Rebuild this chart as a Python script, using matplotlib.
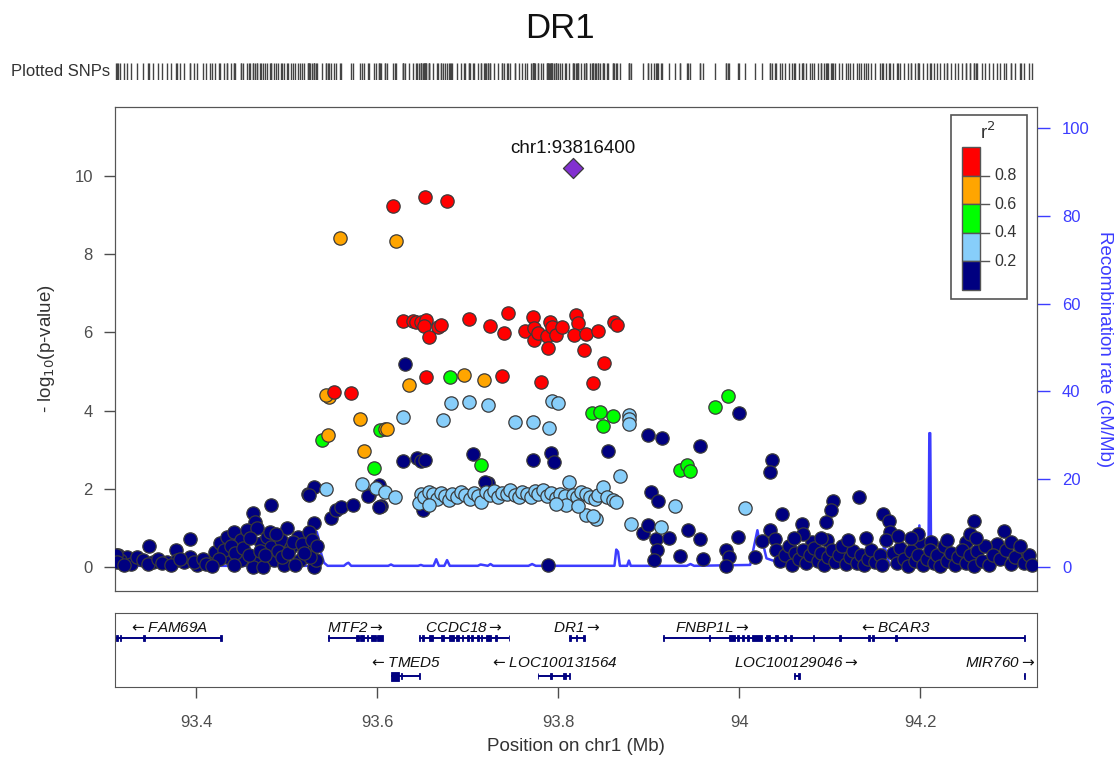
import numpy as np
import matplotlib.pyplot as plt
from matplotlib.patches import Rectangle

plt.rcParams['font.family'] = ['Liberation Sans', 'DejaVu Sans']

# ---- association results, grouped by LD bin (position in Mb, -log10 p) ----
red_pos = [93.617, 93.653, 93.677, 93.628, 93.639, 93.643, 93.648, 93.654, 93.651, 93.667,
           93.670, 93.657, 93.701, 93.725, 93.744, 93.740, 93.763, 93.772, 93.773, 93.773,
           93.778, 93.787, 93.791, 93.793, 93.797, 93.804, 93.789, 93.820, 93.822, 93.817,
           93.830, 93.844, 93.828, 93.862, 93.865, 93.850, 93.738, 93.654, 93.781, 93.552,
           93.571, 93.838]
red_logp = [9.23, 9.46, 9.36, 6.29, 6.29, 6.27, 6.26, 6.32, 6.16, 6.15,
            6.19, 5.87, 6.34, 6.17, 6.49, 5.98, 6.04, 6.40, 6.12, 5.81,
            5.98, 5.91, 6.27, 6.14, 5.93, 6.15, 5.59, 6.44, 6.23, 5.93,
            5.96, 6.04, 5.55, 6.26, 6.20, 5.21, 4.89, 4.86, 4.74, 4.48,
            4.44, 4.70]

orange_pos = [93.559, 93.621, 93.547, 93.543, 93.635, 93.696, 93.718, 93.581, 93.545, 93.608,
              93.611, 93.585]
orange_logp = [8.40, 8.33, 4.36, 4.40, 4.65, 4.91, 4.78, 3.78, 3.38, 3.52,
               3.52, 2.97]

green_pos = [93.680, 93.539, 93.603, 93.596, 93.714, 93.837, 93.846, 93.860, 93.849, 93.973,
             93.988, 93.934, 93.942, 93.945]
green_logp = [4.85, 3.25, 3.50, 2.54, 2.61, 3.95, 3.96, 3.86, 3.61, 4.08,
              4.38, 2.48, 2.61, 2.46]

lblue_pos = [93.681, 93.701, 93.722, 93.673, 93.628, 93.752, 93.772, 93.793, 93.800, 93.790,
             93.878, 93.878, 93.878, 93.868, 93.929, 94.006, 93.880, 93.913, 93.830, 93.842,
             93.838, 93.543, 93.583, 93.599, 93.608, 93.619, 93.648, 93.646, 93.652, 93.657,
             93.662, 93.666, 93.670, 93.675, 93.679, 93.683, 93.688, 93.692, 93.697, 93.702,
             93.707, 93.711, 93.715, 93.720, 93.724, 93.729, 93.733, 93.738, 93.743, 93.747,
             93.752, 93.756, 93.760, 93.765, 93.770, 93.774, 93.778, 93.783, 93.788, 93.792,
             93.797, 93.802, 93.807, 93.812, 93.816, 93.821, 93.825, 93.830, 93.835, 93.840,
             93.844, 93.849, 93.854, 93.860, 93.864, 93.808, 93.822, 93.797, 93.657]
lblue_logp = [4.19, 4.21, 4.14, 3.76, 3.84, 3.72, 3.72, 4.25, 4.20, 3.56,
              3.89, 3.78, 3.67, 2.33, 1.56, 1.52, 1.10, 1.03, 1.33, 1.24,
              1.30, 1.99, 2.12, 2.02, 1.93, 1.78, 1.88, 1.65, 1.80, 1.92,
              1.86, 1.75, 1.90, 1.83, 1.72, 1.88, 1.80, 1.93, 1.85, 1.75,
              1.90, 1.82, 1.67, 1.92, 1.85, 1.95, 1.80, 1.90, 1.86, 1.98,
              1.84, 1.78, 1.93, 1.88, 1.80, 1.95, 1.86, 1.97, 1.82, 1.90,
              1.76, 1.87, 1.81, 2.18, 1.84, 1.78, 1.92, 1.86, 1.80, 1.75,
              1.85, 2.04, 1.78, 1.72, 1.66, 1.60, 1.55, 1.62, 1.58]

navy_pos = [93.630, 93.628, 93.644, 93.648, 93.653, 93.706, 93.772, 93.792, 93.795, 93.855,
            93.899, 93.915, 93.956, 94.000, 94.036, 94.034, 93.902, 93.910, 94.047,
            93.393, 93.348, 93.377, 93.482, 93.462, 93.465, 93.523, 93.530, 93.524, 93.549,
            93.554, 93.560, 93.573, 93.591, 93.604, 93.650, 93.722, 93.530, 93.500, 93.602,
            93.602, 93.719, 93.590,
            93.893, 93.899, 93.908, 93.922, 93.909, 93.906, 93.934, 93.943, 93.956, 93.960,
            93.985, 93.989, 93.985, 93.999, 94.017, 94.025, 93.789, 94.069, 94.034, 94.039,
            94.104, 94.101, 94.096, 94.132, 94.159, 94.165, 94.166, 94.162, 94.259, 94.292,
            94.285, 94.311, 94.251, 94.199, 94.212, 94.080, 94.097,
            93.313, 93.323, 93.328, 93.334, 93.341, 93.352, 93.367, 93.378, 93.386, 93.393,
            93.401, 93.415, 93.421, 93.426, 93.434, 93.441, 93.449, 93.456, 93.467, 93.471,
            93.467, 93.463, 93.478, 93.482, 93.486, 93.493, 93.504, 93.512, 93.515, 93.523,
            93.524, 93.530, 93.532, 93.526, 93.497, 93.474, 93.449, 93.434, 93.315, 93.311,
            93.312, 93.320, 93.346, 93.358, 93.362, 93.372, 93.382, 93.397, 93.407, 93.411,
            93.430, 93.438, 93.443, 93.452, 93.459, 93.458, 93.470, 93.476, 93.481, 93.488,
            93.490, 93.495, 93.501, 93.507, 93.509, 93.517, 93.519, 93.528, 93.533, 93.442,
            93.425, 93.417,
            94.040, 94.045, 94.050, 94.055, 94.058, 94.062, 94.066, 94.070, 94.074, 94.078,
            94.083, 94.087, 94.090, 94.094, 94.098, 94.102, 94.106, 94.110, 94.114, 94.118,
            94.122, 94.126, 94.130, 94.134, 94.138, 94.142, 94.146, 94.150, 94.155, 94.158,
            94.170, 94.174, 94.178, 94.182, 94.186, 94.190, 94.194, 94.198, 94.203, 94.207,
            94.211, 94.215, 94.219, 94.222, 94.226, 94.230, 94.234, 94.238, 94.242, 94.246,
            94.250, 94.255, 94.259, 94.263, 94.268, 94.272, 94.276, 94.280, 94.288, 94.295,
            94.300, 94.305, 94.315, 94.320, 94.324, 94.140, 94.175, 94.230, 94.255, 94.262,
            94.300, 94.310, 94.198, 94.190, 94.070, 94.060, 94.120, 94.090]
navy_logp = [5.18, 2.72, 2.78, 2.70, 2.74, 2.89, 2.75, 2.91, 2.69, 2.97,
             3.38, 3.29, 3.09, 3.93, 2.75, 2.44, 1.91, 1.70, 1.35,
             0.73, 0.54, 0.43, 1.60, 1.39, 1.16, 1.88, 2.05, 1.84, 1.25,
             1.46, 1.54, 1.59, 1.84, 1.56, 1.47, 2.14, 1.12, 0.99, 2.10,
             1.54, 2.18, 1.82,
             0.88, 1.07, 0.73, 0.75, 0.43, 0.18, 0.29, 0.95, 0.73, 0.22,
             0.43, 0.26, 0.02, 0.78, 0.26, 0.66, 0.05, 1.10, 0.95, 0.73,
             1.70, 1.46, 1.16, 1.80, 1.37, 1.18, 0.90, 0.69, 1.18, 0.93,
             0.59, 0.37, 0.65, 0.65, 0.65, 0.65, 0.69,
             0.31, 0.26, 0.09, 0.26, 0.18, 0.14, 0.14, 0.18, 0.14, 0.26,
             0.05, 0.14, 0.39, 0.61, 0.78, 0.90, 0.69, 0.95, 0.99, 0.61,
             0.18, 0.01, 0.78, 0.52, 0.18, 0.69, 0.52, 0.78, 0.18, 0.43,
             0.90, 0.01, 0.18, 0.26, 0.05, 0.01, 0.18, 0.26, 0.18, 0.31,
             0.12, 0.05, 0.08, 0.20, 0.10, 0.06, 0.22, 0.12, 0.20, 0.08,
             0.45, 0.55, 0.35, 0.48, 0.75, 0.30, 0.40, 0.30, 0.90, 0.85,
             0.40, 0.25, 0.35, 0.65, 0.05, 0.60, 0.35, 0.70, 0.55, 0.05,
             0.20, 0.02,
             0.45, 0.15, 0.30, 0.55, 0.05, 0.35, 0.20, 0.45, 0.10, 0.30,
             0.50, 0.15, 0.35, 0.05, 0.25, 0.45, 0.12, 0.30, 0.55, 0.08,
             0.25, 0.40, 0.10, 0.30, 0.05, 0.20, 0.45, 0.12, 0.30, 0.05,
             0.35, 0.10, 0.50, 0.20, 0.02, 0.40, 0.15, 0.30, 0.05, 0.22,
             0.45, 0.10, 0.30, 0.02, 0.55, 0.15, 0.35, 0.05, 0.25, 0.45,
             0.10, 0.30, 0.02, 0.40, 0.15, 0.55, 0.05, 0.30, 0.20, 0.45,
             0.08, 0.25, 0.10, 0.30, 0.05, 0.75, 0.80, 0.70, 0.85, 0.75,
             0.65, 0.55, 0.85, 0.75, 0.85, 0.75, 0.70, 0.75]

lead_pos = 93.8164
lead_logp = 10.21
lead_name = 'chr1:93816400'

# ---- recombination rate (cM/Mb) ----
rec_pos = [93.310, 93.313, 93.316, 93.320, 93.529, 93.531, 93.533, 93.535, 93.538, 93.541,
           93.545, 93.563, 93.566, 93.568, 93.571, 93.612, 93.615, 93.618, 93.645, 93.648,
           93.651, 93.662, 93.665, 93.668, 93.674, 93.677, 93.680, 93.711, 93.714, 93.722,
           93.725, 93.728, 93.767, 93.771, 93.775, 93.862, 93.864, 93.866, 93.868, 93.876,
           93.878, 93.880, 93.942, 93.946, 93.950, 94.012, 94.016, 94.020, 94.023, 94.026,
           94.030, 94.040, 94.055, 94.060, 94.157, 94.160, 94.163, 94.166, 94.196, 94.199,
           94.202, 94.209, 94.210, 94.211, 94.212, 94.215, 94.329]
rec_rate = [0.3, 1.0, 0.5, 0.3, 0.3, 6.0, 8.0, 6.5, 3.0, 1.0,
            0.3, 0.3, 0.8, 1.0, 0.3, 0.3, 0.6, 0.3, 0.3, 0.5,
            0.3, 0.3, 1.8, 0.3, 0.3, 1.6, 0.3, 0.3, 0.6, 0.3,
            0.7, 0.3, 0.3, 0.7, 0.3, 0.3, 4.0, 3.5, 0.3, 0.3,
            1.5, 0.3, 0.3, 0.7, 0.3, 0.5, 4.5, 8.4, 5.0, 5.5,
            2.0, 1.3, 1.0, 0.4, 0.4, 5.0, 3.0, 0.5, 0.5, 9.5,
            0.5, 0.5, 30.5, 30.5, 1.0, 0.8, 0.8]

# ---- genes ----
gene_names = ['FAM69A', 'MTF2', 'CCDC18', 'DR1', 'FNBP1L', 'BCAR3',
              'TMED5', 'LOC100131564', 'LOC100129046', 'MIR760']
gene_start = [93.311, 93.545, 93.646, 93.812, 93.916, 94.028, 93.615, 93.777, 94.060, 94.3147]
gene_end = [93.427, 93.606, 93.746, 93.829, 94.025, 94.316, 93.647, 93.813, 94.067, 94.3155]
gene_strand = ['-', '+', '+', '+', '+', '-', '-', '-', '+', '+']
gene_row = [0, 0, 0, 0, 0, 0, 1, 1, 1, 1]
gene_exons = [
    [(93.311, 93.313), (93.315, 93.317), (93.341, 93.343), (93.426, 93.428)],
    [(93.545, 93.546), (93.576, 93.580), (93.581, 93.585), (93.588, 93.590), (93.593, 93.598), (93.600, 93.606)],
    [(93.646, 93.647), (93.649, 93.651), (93.657, 93.661), (93.670, 93.674), (93.679, 93.685), (93.687, 93.690),
     (93.693, 93.695), (93.699, 93.701), (93.704, 93.706), (93.710, 93.712), (93.714, 93.716), (93.720, 93.726),
     (93.730, 93.732), (93.745, 93.746)],
    [(93.812, 93.814), (93.819, 93.821), (93.827, 93.829)],
    [(93.916, 93.917), (93.966, 93.968), (93.989, 93.995), (93.997, 94.000), (94.003, 94.005), (94.008, 94.011),
     (94.014, 94.025)],
    [(94.030, 94.034), (94.039, 94.043), (94.049, 94.052), (94.056, 94.058), (94.081, 94.083), (94.110, 94.112),
     (94.142, 94.144), (94.147, 94.149), (94.172, 94.174), (94.315, 94.316)],
    [(93.615, 93.624), (93.626, 93.627), (93.646, 93.647)],
    [(93.777, 93.778), (93.791, 93.793), (93.805, 93.809), (93.812, 93.813)],
    [(94.060, 94.062), (94.065, 94.067)],
    [(94.3147, 94.3155)],
]

legend_bins = ['0.8', '0.6', '0.4', '0.2']
ld_colors = ['#ff0000', '#ffa500', '#00ff00', '#87cefa', '#000080']

W, H = 1120, 761
fig = plt.figure(figsize=(W / 100, H / 100), dpi=100)


def px_axes(l, t, r, b):
    return fig.add_axes([l / W, 1 - b / H, (r - l) / W, (b - t) / H])


xmin, xmax = 93.310, 94.329
grey = '#4d4d4d'
recc = '#3c3cff'

# main panel
ax = px_axes(115, 107, 1037, 591)
ax2 = ax.twinx()
ax.set_zorder(ax2.get_zorder() + 1)
ax.patch.set_visible(False)

ylo, yhi = -0.61, 11.76
rscale = 0.11225
ax.set_xlim(xmin, xmax)
ax.set_ylim(ylo, yhi)
ax2.set_ylim(ylo / rscale, yhi / rscale)

ax2.plot(rec_pos, rec_rate, color=recc, lw=1.8)

pts = [(navy_pos, navy_logp, ld_colors[4]), (lblue_pos, lblue_logp, ld_colors[3]),
       (green_pos, green_logp, ld_colors[2]), (orange_pos, orange_logp, ld_colors[1]),
       (red_pos, red_logp, ld_colors[0])]
for xs, ys, c in pts:
    ax.scatter(xs, ys, s=92, c=c, edgecolors='#3a3a3a', linewidths=0.9, zorder=3)
ax.scatter([lead_pos], [lead_logp], s=105, marker='D', c='#8230d0',
           edgecolors='#3a3a3a', linewidths=0.9, zorder=4)
ax.annotate(lead_name, (lead_pos, lead_logp), xytext=(0, 14), textcoords='offset points',
            ha='center', va='center', fontsize=13.5, color='#111111')

ax.set_xticks([])
ax.set_yticks([0, 2, 4, 6, 8, 10])
ax.tick_params(axis='y', length=8, width=1, color=grey, labelcolor=grey, labelsize=12, pad=8)
for sp in ax.spines.values():
    sp.set_color('#555555')
ax2.set_yticks([0, 20, 40, 60, 80, 100])
ax2.tick_params(axis='y', length=9, width=1, color=recc, labelcolor=recc, labelsize=12, pad=9)
for sp in ax2.spines.values():
    sp.set_color('#555555')

fig.text(47 / W, 1 - 349 / H, '- log$_{10}$(p-value)', rotation=90, ha='center', va='center',
         fontsize=13.5, color='#333333')
fig.text(1105 / W, 1 - 349 / H, 'Recombination rate (cM/Mb)', rotation=270, ha='center',
         va='center', fontsize=13.5, color=recc)
fig.text(0.5, 1 - 28 / H, 'DR1', ha='center', va='center', fontsize=25, color='#111111')

# plotted SNPs rug
rax = px_axes(115, 63, 1037, 80)
all_pos = navy_pos + lblue_pos + green_pos + orange_pos + red_pos + [lead_pos]
rax.vlines(all_pos, 0, 1, color='#444444', lw=1.0)
rax.set_xlim(xmin, xmax)
rax.set_ylim(0, 1)
rax.axis('off')
fig.text(110 / W, 1 - 72 / H, 'Plotted SNPs', ha='right', va='center', fontsize=12, color='#333333')

# legend
lax = px_axes(946, 110, 1032, 304)
lax.set_xlim(946, 1032)
lax.set_ylim(304, 110)
lax.axis('off')
lax.add_patch(Rectangle((951, 115), 76, 184, fill=False, ec='#555555', lw=1.2))
edges = [147.3, 175.7, 204.3, 232.7, 261, 290]
for i, c in enumerate(ld_colors):
    lax.add_patch(Rectangle((962, edges[i]), 18, edges[i + 1] - edges[i], fc=c, ec='#555555', lw=1))
for i, lab in enumerate(legend_bins):
    yy = edges[i + 1]
    lax.plot([980, 989], [yy, yy], color='#555555', lw=1)
    lax.text(994, yy, lab, ha='left', va='center', fontsize=11.5, color='#333333')
lax.text(988, 132, 'r$^2$', ha='center', va='center', fontsize=13.5, color='#333333')

# gene track
gax = px_axes(115, 613, 1037, 687)
gax.set_xlim(xmin, xmax)
gax.set_ylim(0, 74)
gax.set_yticks([])
gax.set_xticks([93.4, 93.6, 93.8, 94.0, 94.2])
gax.set_xticklabels(['93.4', '93.6', '93.8', '94', '94.2'])
gax.tick_params(axis='x', length=8, width=1, color=grey, labelcolor=grey, labelsize=12, pad=12)
for sp in gax.spines.values():
    sp.set_color('#555555')
gax.set_xlabel('Position on chr1 (Mb)', fontsize=13.5, color='#333333', labelpad=6)

navy = '#000080'
line_y = [49, 11]
label_y = [59.5, 24]
labels = []
for name, s, e, strand, row, exons in zip(gene_names, gene_start, gene_end, gene_strand,
                                          gene_row, gene_exons):
    y = line_y[row]
    gax.plot([s, e], [y, y], color=navy, lw=1.4, solid_capstyle='butt')
    for a, b in exons:
        hh = 4.5 if (b - a) > 0.005 and name == 'TMED5' else 3.2
        gax.add_patch(Rectangle((a, y - hh), max(b - a, 0.0009), 2 * hh, fc=navy, ec=navy, lw=0.6))
    lab = (r'$\leftarrow$' + name) if strand == '-' else (name + r'$\rightarrow$')
    t = gax.text((s + e) / 2, label_y[row], lab, ha='center', va='center', fontsize=11,
                 style='italic', color='#111111')
    labels.append(t)

fig.canvas.draw()
r = fig.canvas.get_renderer()
right_px = gax.transData.transform((xmax, 0))[0]
left_px = gax.transData.transform((xmin, 0))[0]
inv = gax.transData.inverted()
for t in labels:
    bb = t.get_window_extent(r)
    cx = (bb.x0 + bb.x1) / 2
    if bb.x1 > right_px - 2:
        cx -= bb.x1 - (right_px - 2)
    elif bb.x0 < left_px + 2:
        cx += (left_px + 2) - bb.x0
    t.set_x(inv.transform((cx, 0))[0])

fig.savefig('out.png', dpi=100)
